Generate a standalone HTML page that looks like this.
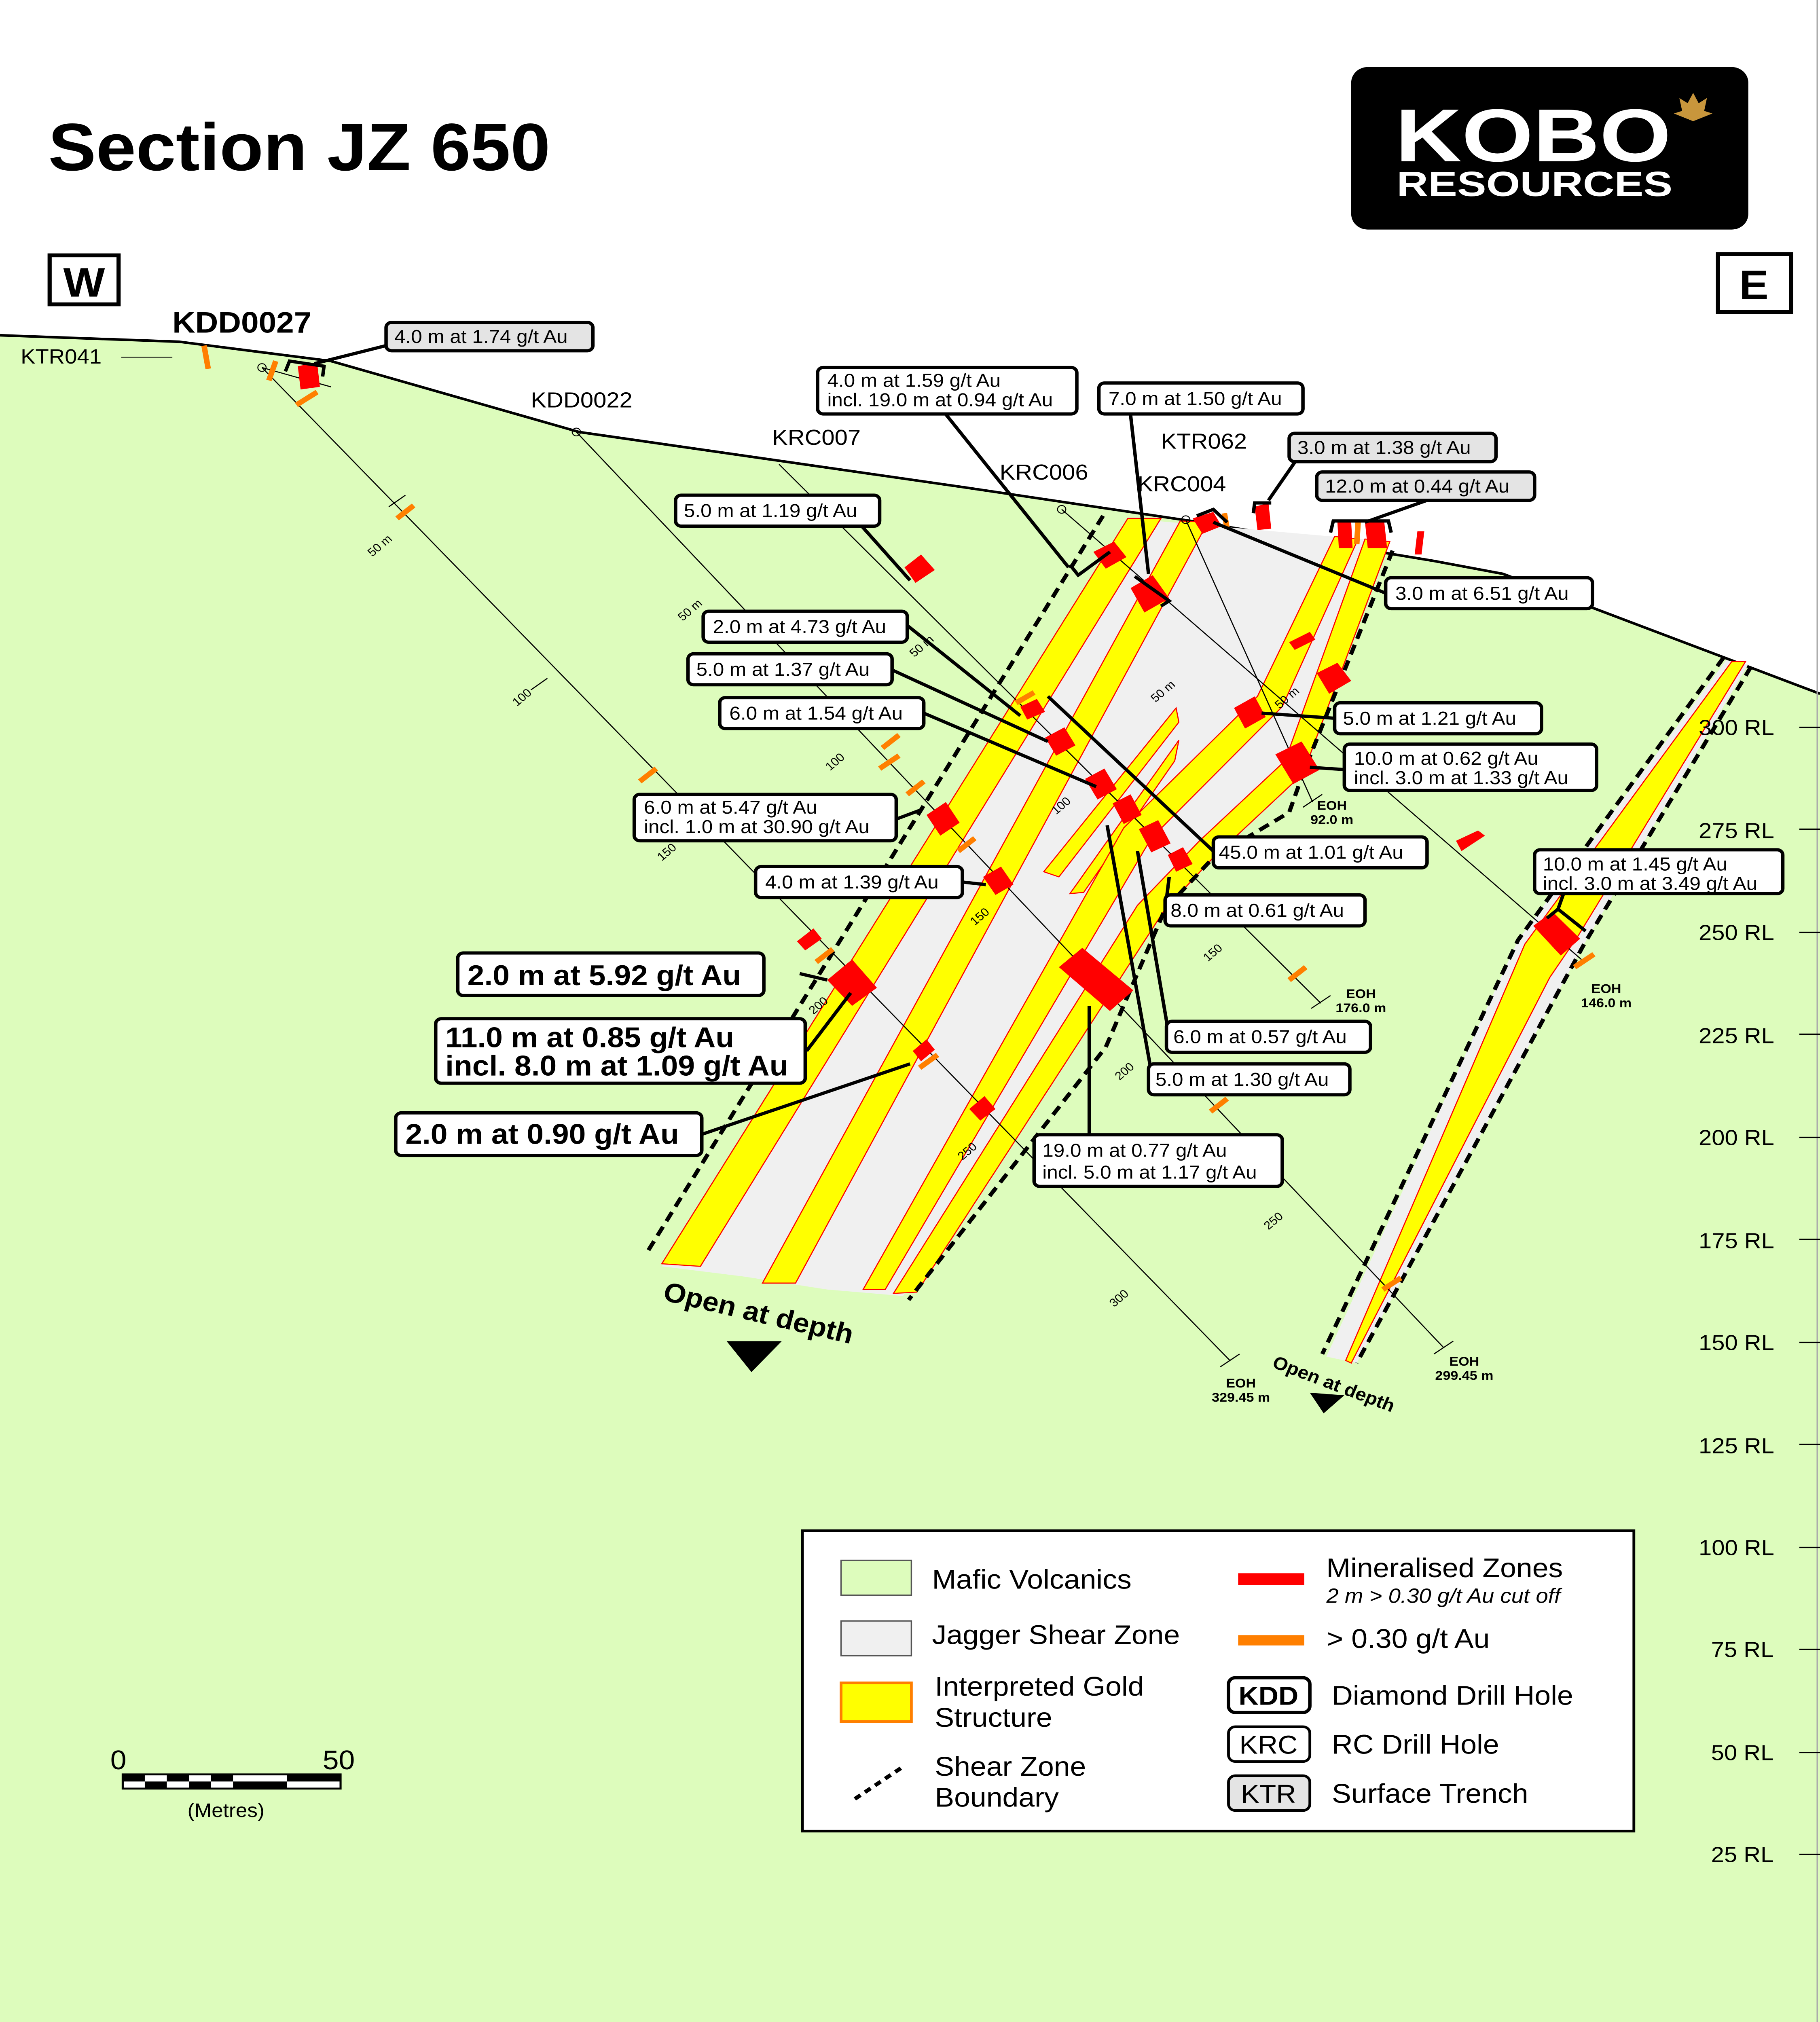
<!DOCTYPE html>
<html><head><meta charset="utf-8"><style>
html,body{margin:0;padding:0;background:#fff;width:100%;height:100%;overflow:hidden}
svg{display:block;position:absolute;left:0;top:0;width:100vw;height:100vh}
text{font-family:"Liberation Sans",sans-serif}
.lb{fill:#fff;stroke:#000;stroke-width:2.5}
.lg{fill:#e4e4e4;stroke:#000;stroke-width:2.5}
.t{font-size:14.5px}
.tb{font-size:22px;font-weight:bold}
.dh{stroke:#000;stroke-width:0.8;fill:none}
.ld{stroke:#000;stroke-width:2.5;fill:none}
.red{fill:#ff0000}
.or{stroke:#ff7f00;stroke-width:4}
.ds{stroke:#000;stroke-width:3;stroke-dasharray:8,5;fill:none}
.yb{fill:#ffff00;stroke:#ff0000;stroke-width:0.8}
.sm{font-size:9px}
.rl{font-size:17px}
</style></head><body>
<svg viewBox="0 0 1320 1568" preserveAspectRatio="none" xmlns="http://www.w3.org/2000/svg">
<rect width="1320" height="1568" fill="#fff"/>
<polygon points="0,260 130,265 240,280 420,335 700,378 870,405 1040,435 1090,445 1320,538 1320,1568 0,1568" fill="#ddfcbc"/>
<polyline points="0,260 130,265 240,280 420,335 700,378 870,405 1040,435 1090,445 1320,538" fill="none" stroke="#000" stroke-width="2"/>
<line x1="1318" y1="0" x2="1318" y2="1568" stroke="#aaa" stroke-width="1"/>

<text x="35" y="132" font-size="52" font-weight="bold">Section JZ 650</text>
<rect x="980" y="52" width="288" height="126" rx="12" fill="#000"/>
<text x="1012" y="125" font-size="58" font-weight="bold" fill="#fff" textLength="200" lengthAdjust="spacingAndGlyphs">KOBO</text>
<text x="1013" y="152" font-size="27" font-weight="bold" fill="#fff" textLength="200" lengthAdjust="spacingAndGlyphs">RESOURCES</text>
<path d="M1228,72 l4,8 6,-4 -2,10 6,2 -14,6 -14,-6 6,-2 -2,-10 6,4z" fill="#c8963c"/>
<rect x="36" y="198" width="50" height="38" fill="#fff" stroke="#000" stroke-width="3"/>
<text x="61" y="230" font-size="32" font-weight="bold" text-anchor="middle">W</text>
<rect x="1246" y="197" width="53" height="45" fill="#fff" stroke="#000" stroke-width="3"/>
<text x="1272" y="232" font-size="32" font-weight="bold" text-anchor="middle">E</text>

<polygon points="818,402 1008,420 945,600 880,665 845,705 655,1005 600,1000 540,990 480,982" fill="#f0f0f0"/>
<polygon class="yb" points="818,402 842,402 508,982 480,980"/>
<polygon class="yb" points="856,404 876,405 577,995 553,995"/>
<polygon class="yb" points="757,676 853,549 855,560 768,680"/>
<polygon class="yb" points="776,693 855,574 852,590 786,692"/>
<polygon class="yb" points="968,416 985,418 930,548 835,650 642,1000 626,1000 815,642 912,540"/>
<polygon class="yb" points="990,418 1008,420 945,600 880,665 845,705 665,1002 648,1003 825,702 870,652 932,590"/>
<polyline class="ds" points="800,400 470,970"/>
<polyline class="ds" points="1010,427 945,600 935,630 880,665 845,705 802,812 659,1008"/>

<!-- right zone -->
<polygon fill="#f0f0f0" points="1252,512 1268,515 1149,732 984,1057 962,1052 1101,729"/>
<polygon class="yb" points="1256,513 1266,513 1145,725 1124,758 980,1057 976,1055 1106,732"/>
<polyline class="ds" points="1250,510 1101,729 959,1050"/>
<polyline class="ds" points="1270,517 1149,732 984,1057"/>

<line class="dh" x1="190" y1="285" x2="892" y2="1055"/>
<line class="dh" x1="418" y1="335" x2="1047" y2="1045"/>
<line class="dh" x1="565" y1="360" x2="958" y2="778"/>
<line class="dh" x1="770" y1="395" x2="1148" y2="745"/>
<line class="dh" x1="860" y1="403" x2="952" y2="622"/>
<line class="dh" x1="190" y1="285" x2="240" y2="300"/>
<g class="dh">
<line x1="885" y1="1060" x2="899" y2="1050"/><line x1="1040" y1="1050" x2="1054" y2="1040"/>
<line x1="951" y1="782" x2="965" y2="772"/><line x1="1141" y1="750" x2="1155" y2="740"/>
<line x1="945" y1="626" x2="959" y2="616"/>
<line x1="282" y1="393" x2="294" y2="384"/><line x1="385" y1="535" x2="397" y2="526"/>
</g>
<circle cx="190" cy="285" r="3" fill="none" stroke="#000" stroke-width="0.7"/>
<circle cx="418" cy="335" r="3" fill="none" stroke="#000" stroke-width="0.7"/>
<circle cx="770" cy="395" r="3" fill="none" stroke="#000" stroke-width="0.7"/>
<circle cx="860" cy="403" r="3" fill="none" stroke="#000" stroke-width="0.7"/>

<g class="sm">
<text transform="translate(270,432) rotate(-42)">50 m</text>
<text transform="translate(375,548) rotate(-42)">100</text>
<text transform="translate(480,668) rotate(-42)">150</text>
<text transform="translate(590,787) rotate(-42)">200</text>
<text transform="translate(698,900) rotate(-42)">250</text>
<text transform="translate(808,1014) rotate(-42)">300</text>
<text transform="translate(495,482) rotate(-42)">50 m</text>
<text transform="translate(602,598) rotate(-42)">100</text>
<text transform="translate(707,718) rotate(-42)">150</text>
<text transform="translate(812,838) rotate(-42)">200</text>
<text transform="translate(920,954) rotate(-42)">250</text>
<text transform="translate(663,510) rotate(-42)">50 m</text>
<text transform="translate(766,632) rotate(-42)">100</text>
<text transform="translate(876,746) rotate(-42)">150</text>
<text transform="translate(838,545) rotate(-42)">50 m</text>
<text transform="translate(928,550) rotate(-42)">50 m</text>
</g>
<g font-size="10" font-weight="bold" text-anchor="middle">
<text x="900" y="1076">EOH</text><text x="900" y="1087">329.45 m</text>
<text x="1062" y="1059">EOH</text><text x="1062" y="1070">299.45 m</text>
<text x="987" y="774">EOH</text><text x="987" y="785">176.0 m</text>
<text x="1165" y="770">EOH</text><text x="1165" y="781">146.0 m</text>
<text x="966" y="628">EOH</text><text x="966" y="639">92.0 m</text>
</g>

<g class="or">
<line x1="148" y1="268" x2="151" y2="286"/><line x1="200" y1="280" x2="195" y2="295"/>
<line x1="215" y1="314" x2="230" y2="304"/><line x1="288" y1="402" x2="300" y2="392"/>
<line x1="464" y1="606" x2="476" y2="596"/><line x1="592" y1="746" x2="604" y2="736"/>
<line x1="667" y1="828" x2="680" y2="818"/><line x1="638" y1="596" x2="652" y2="586"/>
<line x1="658" y1="616" x2="670" y2="606"/><line x1="695" y1="660" x2="707" y2="650"/>
<line x1="737" y1="545" x2="750" y2="537"/><line x1="878" y1="862" x2="890" y2="852"/>
<line x1="935" y1="760" x2="947" y2="750"/><line x1="1003" y1="1000" x2="1016" y2="991"/>
<line x1="1142" y1="750" x2="1156" y2="740"/><line x1="640" y1="580" x2="652" y2="570"/>
<line x1="888" y1="398" x2="890" y2="410"/><line x1="985" y1="405" x2="984" y2="422"/>
</g>
<g class="red">
<polygon points="216,284 230,281 232,300 218,302"/>
<polygon points="656,440 668,430 678,442 664,452"/>
<polygon points="793,428 808,420 817,432 802,441"/>
<polygon points="820,456 836,446 848,464 830,475"/>
<polygon points="865,402 880,397 886,408 872,414"/>
<polygon points="910,393 920,390 922,410 912,411"/>
<polygon points="970,405 980,405 981,425 971,425"/>
<polygon points="990,405 1004,405 1006,425 992,425"/>
<polygon points="1028,412 1033,412 1031,430 1026,430"/>
<polygon points="935,498 950,490 954,496 939,504"/>
<polygon points="955,522 970,514 980,528 964,538"/>
<polygon points="895,549 910,540 918,556 903,565"/>
<polygon points="925,585 944,575 957,597 938,608"/>
<polygon points="1056,652 1072,644 1077,648 1060,660"/>
<polygon points="740,548 752,542 758,552 745,558"/>
<polygon points="758,572 772,564 780,578 766,586"/>
<polygon points="787,604 801,596 810,612 796,620"/>
<polygon points="807,623 820,616 828,632 815,639"/>
<polygon points="826,643 840,636 849,654 835,661"/>
<polygon points="847,663 858,657 865,670 853,676"/>
<polygon points="672,632 686,622 696,638 682,648"/>
<polygon points="713,680 726,672 735,686 722,694"/>
<polygon points="578,730 590,720 596,728 584,737"/>
<polygon points="600,760 618,744 636,766 618,780"/>
<polygon points="768,750 785,735 822,768 805,784"/>
<polygon points="662,815 672,806 678,814 668,823"/>
<polygon points="703,860 714,850 722,860 711,869"/>
<polygon points="1112,718 1126,707 1146,728 1132,741"/>
</g>

<text x="125" y="258" font-size="23" font-weight="bold">KDD0027</text>
<text x="15" y="282" font-size="16">KTR041</text>
<line x1="88" y1="277" x2="125" y2="277" stroke="#000" stroke-width="0.7"/>
<text x="385" y="316" font-size="17">KDD0022</text>
<text x="560" y="345" font-size="17">KRC007</text>
<text x="725" y="372" font-size="17">KRC006</text>
<text x="842" y="348" font-size="17">KTR062</text>
<text x="825" y="381" font-size="17">KRC004</text>

<g class="ld">
<polyline points="280,268 228,282"/>
<polyline points="685,320 775,440"/>
<polyline points="820,322 833,445"/>
<polyline points="940,357 920,388"/>
<polyline points="1035,388 990,405"/>
<polyline points="1005,460 880,405"/>
<polyline points="625,408 660,450"/>
<polyline points="658,485 740,555"/>
<polyline points="648,520 760,575"/>
<polyline points="670,553 795,610"/>
<polyline points="648,636 668,628"/>
<polyline points="698,684 715,686"/>
<polyline points="580,755 600,760"/>
<polyline points="585,815 617,770"/>
<polyline points="508,880 660,825"/>
<polyline points="880,660 760,540"/>
<polyline points="845,706 848,680"/>
<polyline points="848,804 825,660"/>
<polyline points="836,837 803,640"/>
<polyline points="790,880 790,780"/>
<polyline points="968,557 915,553"/>
<polyline points="978,597 950,595"/>
<polyline points="1134,693 1130,705"/>
</g>
<g class="ld" stroke-width="3">
<polyline points="207,288 210,280 235,284 234,292"/>
<polyline points="776,438 782,446 805,428"/>
<polyline points="823,447 848,466 842,470"/>
<polyline points="868,400 880,395 890,405"/>
<polyline points="965,413 967,404 1007,404 1009,413"/>
<polyline points="909,398 910,390 922,390"/>
<polyline points="1122,712 1130,705 1150,722"/>
</g>

<rect class="lg" x="280" y="250" width="150" height="22" rx="4"/><text class="t" x="286" y="266">4.0 m at 1.74 g/t Au</text>
<rect class="lb" x="593" y="285" width="188" height="36" rx="4"/><text class="t" x="600" y="300">4.0 m at 1.59 g/t Au</text><text class="t" x="600" y="315">incl. 19.0 m at 0.94 g/t Au</text>
<rect class="lb" x="797" y="297" width="148" height="24" rx="4"/><text class="t" x="804" y="314">7.0 m at 1.50 g/t Au</text>
<rect class="lg" x="935" y="336" width="150" height="22" rx="4"/><text class="t" x="941" y="352">3.0 m at 1.38 g/t Au</text>
<rect class="lg" x="955" y="366" width="158" height="22" rx="4"/><text class="t" x="961" y="382">12.0 m at 0.44 g/t Au</text>
<rect class="lb" x="1005" y="448" width="150" height="24" rx="4"/><text class="t" x="1012" y="465">3.0 m at 6.51 g/t Au</text>
<rect class="lb" x="490" y="384" width="148" height="24" rx="4"/><text class="t" x="496" y="401">5.0 m at 1.19 g/t Au</text>
<rect class="lb" x="510" y="474" width="148" height="24" rx="4"/><text class="t" x="517" y="491">2.0 m at 4.73 g/t Au</text>
<rect class="lb" x="499" y="507" width="148" height="24" rx="4"/><text class="t" x="505" y="524">5.0 m at 1.37 g/t Au</text>
<rect class="lb" x="522" y="541" width="148" height="24" rx="4"/><text class="t" x="529" y="558">6.0 m at 1.54 g/t Au</text>
<rect class="lb" x="460" y="616" width="190" height="36" rx="4"/><text class="t" x="467" y="631">6.0 m at 5.47 g/t Au</text><text class="t" x="467" y="646">incl. 1.0 m at 30.90 g/t Au</text>
<rect class="lb" x="548" y="672" width="150" height="24" rx="4"/><text class="t" x="555" y="689">4.0 m at 1.39 g/t Au</text>
<rect class="lb" x="968" y="545" width="150" height="24" rx="4"/><text class="t" x="974" y="562">5.0 m at 1.21 g/t Au</text>
<rect class="lb" x="975" y="577" width="183" height="36" rx="4"/><text class="t" x="982" y="593">10.0 m at 0.62 g/t Au</text><text class="t" x="982" y="608">incl. 3.0 m at 1.33 g/t Au</text>
<rect class="lb" x="880" y="649" width="155" height="24" rx="4"/><text class="t" x="884" y="666">45.0 m at 1.01 g/t Au</text>
<rect class="lb" x="845" y="694" width="145" height="24" rx="4"/><text class="t" x="849" y="711">8.0 m at 0.61 g/t Au</text>
<rect class="lb" x="1113" y="659" width="180" height="34" rx="4"/><text class="t" x="1119" y="675">10.0 m at 1.45 g/t Au</text><text class="t" x="1119" y="690">incl. 3.0 m at 3.49 g/t Au</text>
<rect class="lb" x="846" y="792" width="148" height="24" rx="4"/><text class="t" x="851" y="809">6.0 m at 0.57 g/t Au</text>
<rect class="lb" x="833" y="825" width="146" height="24" rx="4"/><text class="t" x="838" y="842">5.0 m at 1.30 g/t Au</text>
<rect class="lb" x="750" y="880" width="180" height="40" rx="4"/><text class="t" x="756" y="897">19.0 m at 0.77 g/t Au</text><text class="t" x="756" y="914">incl. 5.0 m at 1.17 g/t Au</text>
<rect class="lb" x="332" y="739" width="222" height="33" rx="4"/><text class="tb" x="339" y="764">2.0 m at 5.92 g/t Au</text>
<rect class="lb" x="316" y="790" width="268" height="50" rx="4"/><text class="tb" x="323" y="812">11.0 m at 0.85 g/t Au</text><text class="tb" x="323" y="834">incl. 8.0 m at 1.09 g/t Au</text>
<rect class="lb" x="287" y="863" width="222" height="33" rx="4"/><text class="tb" x="294" y="887">2.0 m at 0.90 g/t Au</text>

<text transform="translate(480,1008) rotate(14)" font-size="21" font-weight="bold">Open at depth</text>
<polygon points="527,1040 567,1040 545,1064" fill="#000"/>
<text transform="translate(922,1060) rotate(22)" font-size="14" font-weight="bold">Open at depth</text>
<polygon points="950,1080 975,1082 960,1096" fill="#000"/>

<g class="rl">
<text x="1232" y="570">300 RL</text><text x="1232" y="650">275 RL</text><text x="1232" y="729">250 RL</text>
<text x="1232" y="809">225 RL</text><text x="1232" y="888">200 RL</text><text x="1232" y="968">175 RL</text>
<text x="1232" y="1047">150 RL</text><text x="1232" y="1127">125 RL</text><text x="1232" y="1206">100 RL</text>
<text x="1241" y="1285">75 RL</text><text x="1241" y="1365">50 RL</text><text x="1241" y="1444">25 RL</text>
</g>
<g stroke="#000" stroke-width="1">
<line x1="1305" y1="564" x2="1320" y2="564"/><line x1="1305" y1="643" x2="1320" y2="643"/>
<line x1="1305" y1="723" x2="1320" y2="723"/><line x1="1305" y1="802" x2="1320" y2="802"/>
<line x1="1305" y1="882" x2="1320" y2="882"/><line x1="1305" y1="961" x2="1320" y2="961"/>
<line x1="1305" y1="1041" x2="1320" y2="1041"/><line x1="1305" y1="1120" x2="1320" y2="1120"/>
<line x1="1305" y1="1200" x2="1320" y2="1200"/><line x1="1305" y1="1279" x2="1320" y2="1279"/>
<line x1="1305" y1="1359" x2="1320" y2="1359"/><line x1="1305" y1="1438" x2="1320" y2="1438"/>
</g>

<rect x="582" y="1187" width="603" height="233" fill="#fff" stroke="#000" stroke-width="2"/>
<rect x="610" y="1210" width="51" height="27" fill="#ddfcbc" stroke="#555"/>
<text x="676" y="1232" font-size="21">Mafic Volcanics</text>
<rect x="610" y="1257" width="51" height="27" fill="#f0f0f0" stroke="#555"/>
<text x="676" y="1275" font-size="21">Jagger Shear Zone</text>
<rect x="610" y="1305" width="51" height="30" fill="#ffff00" stroke="#ff7f00" stroke-width="2"/>
<text x="678" y="1315" font-size="21">Interpreted Gold</text><text x="678" y="1339" font-size="21">Structure</text>
<line x1="620" y1="1395" x2="655" y2="1370" stroke="#000" stroke-width="3" stroke-dasharray="5,4"/>
<text x="678" y="1377" font-size="21">Shear Zone</text><text x="678" y="1401" font-size="21">Boundary</text>
<rect x="898" y="1220" width="48" height="9" fill="#ff0000"/>
<text x="962" y="1223" font-size="21">Mineralised Zones</text>
<text x="962" y="1243" font-size="16" font-style="italic">2 m &gt; 0.30 g/t Au cut off</text>
<rect x="898" y="1268" width="48" height="8" fill="#ff7f00"/>
<text x="962" y="1278" font-size="21">&gt; 0.30 g/t Au</text>
<rect x="891" y="1301" width="59" height="27" rx="5" fill="#fff" stroke="#000" stroke-width="2.5"/>
<text x="920" y="1322" font-size="20" font-weight="bold" text-anchor="middle">KDD</text>
<text x="966" y="1322" font-size="21">Diamond Drill Hole</text>
<rect x="891" y="1339" width="59" height="27" rx="5" fill="#fff" stroke="#000" stroke-width="2"/>
<text x="920" y="1360" font-size="20" text-anchor="middle">KRC</text>
<text x="966" y="1360" font-size="21">RC Drill Hole</text>
<rect x="891" y="1377" width="59" height="27" rx="5" fill="#e4e4e4" stroke="#000" stroke-width="2"/>
<text x="920" y="1398" font-size="20" text-anchor="middle">KTR</text>
<text x="966" y="1398" font-size="21">Surface Trench</text>

<text x="80" y="1372" font-size="21">0</text><text x="234" y="1372" font-size="21">50</text>
<rect x="89" y="1376" width="158" height="11" fill="#fff" stroke="#000" stroke-width="1.5"/>
<g fill="#000">
<rect x="89" y="1376" width="16" height="5.5"/><rect x="121" y="1376" width="16" height="5.5"/>
<rect x="153" y="1376" width="16" height="5.5"/><rect x="105" y="1381.5" width="16" height="5.5"/>
<rect x="137" y="1381.5" width="16" height="5.5"/><rect x="169" y="1381.5" width="39" height="5.5"/>
<rect x="208" y="1376" width="39" height="5.5"/>
</g>
<text x="136" y="1409" font-size="15">(Metres)</text>
</svg>
</body></html>
